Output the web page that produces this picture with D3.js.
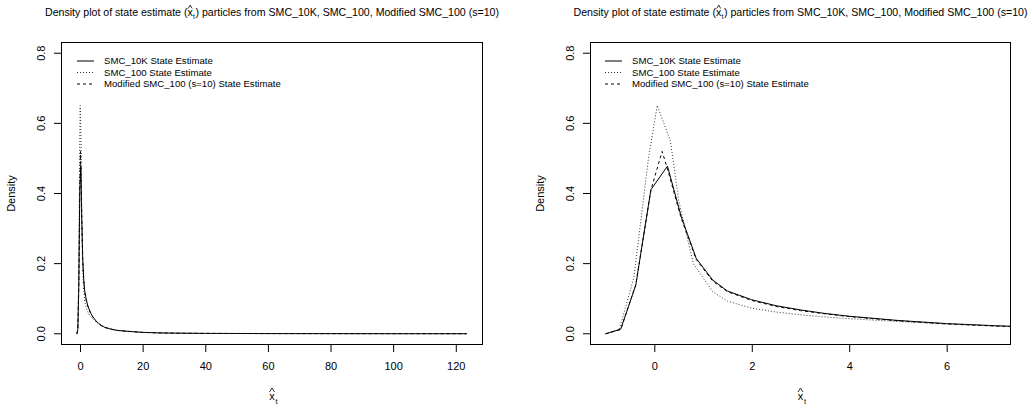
<!DOCTYPE html>
<html><head><meta charset="utf-8">
<script src="https://cdn.jsdelivr.net/npm/d3@7"></script>
<style>body{margin:0;background:#fff}svg{display:block}text{font-family:"Liberation Sans",Arial,sans-serif;fill:#000}</style>
</head><body><svg id="c" width="1032" height="411"></svg>
<script>
// ---- data ----
const titleText = ["Density plot of state estimate (", ") particles from SMC_10K, SMC_100, Modified SMC_100 (s=10)"];
const legendLabels = ["SMC_10K State Estimate", "SMC_100 State Estimate", "Modified SMC_100 (s=10) State Estimate"];
const yTicks = [0, 0.2, 0.4, 0.6, 0.8];
const xTicksLeft = [0, 20, 40, 60, 80, 100, 120];
const xTicksRight = [0, 2, 4, 6];
const xLimLeft = [-1.08, 123.7];
const xLimRight = [-1, 7];
const yLim = [0, 0.8];

const tailX = [1.5, 2, 2.5, 3, 3.5, 4, 5, 6, 7, 8, 10, 12, 15, 20, 25, 30, 40, 50, 60, 80, 100, 123.5];
const solidX = [-1.0, -0.69, -0.38, -0.07, 0.27, 0.55, 0.86, 1.2].concat(tailX);
const solidY = [0.0, 0.013, 0.139, 0.411, 0.478, 0.335, 0.215, 0.153,
  0.122, 0.097, 0.08, 0.068, 0.058, 0.05, 0.038, 0.029, 0.023, 0.018, 0.013, 0.0095, 0.0072, 0.004, 0.0026, 0.0018, 0.0011, 0.0008, 0.0006, 0.0004, 0.0003, 0.0002];
const dottedX = [-1.0, -0.72, -0.42, -0.12, 0.06, 0.33, 0.5, 0.8, 1.2].concat(tailX);
const dottedY = [0.0, 0.012, 0.16, 0.5, 0.651, 0.55, 0.38, 0.2, 0.12,
  0.093, 0.073, 0.062, 0.054, 0.048, 0.043, 0.035, 0.028, 0.022, 0.018, 0.013, 0.0095, 0.0072, 0.004, 0.0026, 0.0018, 0.0011, 0.0008, 0.0006, 0.0004, 0.0003, 0.0002];
const dashedX = [-1.0, -0.69, -0.38, -0.07, 0.16, 0.27, 0.55, 0.86, 1.2].concat(tailX);
const dashedY = [0.0, 0.012, 0.14, 0.41, 0.52, 0.47, 0.33, 0.212, 0.15,
  0.12, 0.095, 0.078, 0.066, 0.057, 0.049, 0.037, 0.028, 0.022, 0.018, 0.013, 0.0095, 0.0072, 0.004, 0.0026, 0.0018, 0.0011, 0.0008, 0.0006, 0.0004, 0.0003, 0.0002];

const series = [
  {x: solidX, y: solidY, dash: null, color: "#000"},
  {x: dottedX, y: dottedY, dash: "1,2", color: "#333"},
  {x: dashedX, y: dashedY, dash: "3,3", color: "#000"}
];

// ---- drawing ----
const svg = d3.select("#c");
const FONT = "Liberation Sans, Arial, sans-serif";
function ext(l){const d=(l[1]-l[0])*0.04;return [l[0]-d,l[1]+d];}
const panels = [
  {left: 61, right: 483, xlim: xLimLeft, ticks: xTicksLeft, id: "pL", legX: 77},
  {left: 590, right: 1011, xlim: xLimRight, ticks: xTicksRight, id: "pR", legX: 605}
];
const plotTop = 42, plotBottom = 345;

function hat(g, cx, yb, w, h) {
  g.append("path").attr("d", `M${cx - w / 2},${yb} L${cx},${yb - h} L${cx + w / 2},${yb}`)
    .attr("fill", "none").attr("stroke", "#000").attr("stroke-width", 0.8);
}

panels.forEach(p => {
  const x = d3.scaleLinear().domain(ext(p.xlim)).range([p.left, p.right]);
  const y = d3.scaleLinear().domain(ext(yLim)).range([plotBottom, plotTop]);
  const g = svg.append("g");
  g.append("clipPath").attr("id", p.id).append("rect")
    .attr("x", p.left).attr("y", plotTop).attr("width", p.right - p.left).attr("height", plotBottom - plotTop);

  const line = d3.line().x(d => x(d[0])).y(d => y(d[1]));
  series.forEach(s => {
    const pts = s.x.map((v, i) => [v, s.y[i]]);
    g.append("path").attr("d", line(pts)).attr("fill", "none")
      .attr("stroke", s.color).attr("stroke-width", 1)
      .attr("stroke-dasharray", s.dash).attr("clip-path", `url(#${p.id})`);
  });

  // box
  g.append("rect").attr("x", p.left + 0.5).attr("y", plotTop + 0.5)
    .attr("width", p.right - p.left - 1).attr("height", plotBottom - plotTop - 1)
    .attr("fill", "none").attr("stroke", "#000").attr("stroke-width", 1);

  // x axis
  const xa = d3.axisBottom(x).tickValues(p.ticks).tickSize(7).tickPadding(10).tickFormat(d3.format("d"));
  const gx = g.append("g").attr("transform", `translate(0,${plotBottom})`).call(xa);
  gx.select(".domain").remove();
  gx.selectAll("text").attr("font-size", 11).attr("font-family", FONT).attr("fill", "#000");
  gx.selectAll("line").attr("stroke", "#000");

  // y axis
  const ya = d3.axisLeft(y).tickValues(yTicks).tickSize(7).tickFormat(d3.format(".1f"));
  const gy = g.append("g").attr("transform", `translate(${p.left},0)`).call(ya);
  gy.select(".domain").remove();
  gy.selectAll("line").attr("stroke", "#000");
  gy.selectAll(".tick").attr("transform", null);
  gy.selectAll(".tick line").attr("y1", d => y(d)).attr("y2", d => y(d));
  gy.selectAll("text").attr("font-size", 11).attr("font-family", FONT).attr("fill", "#000")
    .attr("x", -20).attr("y", d => y(d)).attr("dy", "0.35em").attr("text-anchor", "middle")
    .attr("transform", d => `rotate(-90,${-20},${y(d)})`);

  // y label
  g.append("text").attr("transform", `translate(${p.left - 46},${(plotTop + plotBottom) / 2}) rotate(-90)`)
    .attr("text-anchor", "middle").attr("font-size", 11).text("Density");

  // x label: hat x sub t
  const cx = (p.left + p.right) / 2;
  const xl = g.append("g");
  xl.append("text").attr("x", cx).attr("y", 400).attr("text-anchor", "middle").attr("font-size", 11).text("x");
  hat(xl, cx, 392, 5, 4);
  xl.append("text").attr("x", cx + 3.5).attr("y", 404).attr("font-size", 7.5).text("t");

  // title
  const tg = g.append("g");
  const fs = 10.6;
  const t1 = tg.append("text").attr("x", 0).attr("y", 16).attr("font-size", fs).text(titleText[0]);
  let w1 = t1.node().getComputedTextLength();
  tg.append("text").attr("x", w1).attr("y", 16).attr("font-size", fs).text("x");
  hat(tg, w1 + 2.7, 8.5, 4, 3.5);
  tg.append("text").attr("x", w1 + 5.5).attr("y", 18.5).attr("font-size", fs * 0.65).text("t");
  const t2 = tg.append("text").attr("x", w1 + 8).attr("y", 16).attr("font-size", fs).text(titleText[1]);
  const total = w1 + 8 + t2.node().getComputedTextLength();
  tg.attr("transform", `translate(${cx - total / 2},0)`);

  // legend
  const lg = g.append("g");
  legendLabels.forEach((lab, i) => {
    const yy = 61 + i * 11.5;
    lg.append("line").attr("x1", p.legX).attr("x2", p.legX + 17).attr("y1", yy).attr("y2", yy)
      .attr("stroke", series[i].color).attr("stroke-dasharray", series[i].dash);
    lg.append("text").attr("x", p.legX + 27).attr("y", yy).attr("dy", "0.35em").attr("font-size", 9.6).text(lab);
  });
});
</script></body></html>
